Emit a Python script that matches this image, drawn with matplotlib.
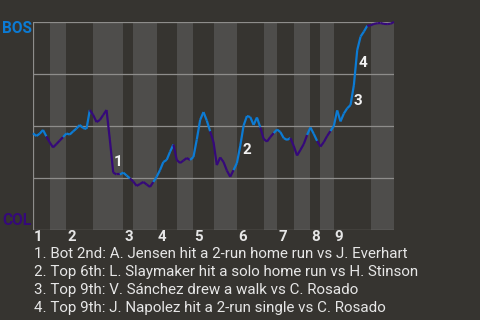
import matplotlib
matplotlib.use('Agg')
import matplotlib.pyplot as plt
from matplotlib.collections import LineCollection
import numpy as np

plt.rcParams['font.family'] = ['Roboto', 'DejaVu Sans']

# Win probability for BOS after each play
wp = [0.465, 0.452, 0.463, 0.481, 0.450, 0.421, 0.397, 0.413, 0.430, 0.447,
      0.464, 0.459, 0.474, 0.488, 0.505, 0.490, 0.486, 0.577, 0.553, 0.519,
      0.529, 0.553, 0.577, 0.433, 0.276, 0.267, 0.267, 0.276, 0.262, 0.248,
      0.233, 0.212, 0.221, 0.231, 0.219, 0.207, 0.231, 0.256, 0.288, 0.327,
      0.337, 0.376, 0.411, 0.337, 0.322, 0.334, 0.346, 0.337, 0.351, 0.435,
      0.529, 0.567, 0.526, 0.474, 0.423, 0.312, 0.349, 0.327, 0.286, 0.256,
      0.288, 0.322, 0.404, 0.502, 0.548, 0.543, 0.505, 0.541, 0.493, 0.438,
      0.425, 0.447, 0.466, 0.483, 0.471, 0.442, 0.433, 0.442, 0.404, 0.358,
      0.385, 0.413, 0.457, 0.493, 0.462, 0.428, 0.401, 0.423, 0.452, 0.476,
      0.500, 0.575, 0.522, 0.560, 0.585, 0.601, 0.697, 0.865, 0.930, 0.954,
      0.982, 0.984, 0.991, 0.994, 0.995, 0.991, 0.990, 0.992, 1.000]

# play index where each half inning starts (top 1, bot 1, top 2, ...)
half_starts = [0, 5, 10, 18, 27, 30, 37, 43, 48, 54, 61, 69, 73, 78, 83, 86, 90, 101]
innings = ['1', '2', '3', '4', '5', '6', '7', '8', '9']

team_top = 'BOS'
team_bottom = 'COL'

events = [24, 62, 96, 97]
event_labels = ['1', '2', '3', '4']
event_texts = [
    '1. Bot 2nd: A. Jensen hit a 2-run home run vs J. Everhart',
    '2. Top 6th: L. Slaymaker hit a solo home run vs H. Stinson',
    '3. Top 9th: V. Sánchez drew a walk vs C. Rosado',
    '4. Top 9th: J. Napolez hit a 2-run single vs C. Rosado',
]
label_offsets = [(3.5, 7.6), (4.5, -3.2), (3.0, -11.5), (3.8, -9.0)]

BG = '#363430'
BAND = '#4e4d4b'
GRID = '#8e8d8b'
BLUE = '#0c7bd4'
PURPLE = '#35097a'
TXT = '#e6e6e6'

n_plays = len(wp) - 1
fig = plt.figure(figsize=(4.8, 3.2), dpi=100, facecolor=BG)
ax = fig.add_axes([33/480, 1 - 230/320, (394-33)/480, (230-22)/320])
ax.set_facecolor(BG)
ax.set_xlim(0, n_plays)
ax.set_ylim(0, 1)
for s in ax.spines.values():
    s.set_visible(False)
ax.set_xticks([])
ax.set_yticks([])

ends = half_starts[1:] + [n_plays]
for k, (a, b) in enumerate(zip(half_starts, ends)):
    if k % 2 == 1:
        ax.axvspan(a, b, color=BAND, lw=0, zorder=0)

for g in [0, 0.25, 0.5, 0.75, 1.0]:
    ax.axhline(g, color=GRID, lw=0.9, zorder=1)
ax.axvline(0, color=GRID, lw=0.9, zorder=1)

x = np.arange(len(wp))
y = np.array(wp)
segs = [[(x[i], y[i]), (x[i+1], y[i+1])] for i in range(len(wp) - 1)]
cols = []
for i in range(len(wp) - 1):
    end = i + 1
    k = max(j for j, s in enumerate(half_starts) if s <= end)
    cols.append(BLUE if k % 2 == 0 else PURPLE)
lc = LineCollection(segs, colors=cols, linewidths=1.6, capstyle='butt', joinstyle='miter', zorder=3)
lc.set_clip_on(False)
ax.add_collection(lc)

for lab, idx, off in zip(event_labels, events, label_offsets):
    ax.annotate(lab, xy=(idx, wp[idx]), xytext=off, textcoords='offset points',
                ha='center', va='center', color='#f2f2f2', fontsize=11,
                fontweight='bold', zorder=4)

# inning labels
for k, inn in enumerate(innings):
    ax.text(half_starts[2*k] + 0.3, -0.055, inn, ha='left', va='baseline',
            color=TXT, fontsize=10.8, fontweight='bold',
            transform=ax.transData, clip_on=False)

fig.text(16.5/480, 1 - 33/320, team_top, ha='center', va='baseline',
         color=BLUE, fontsize=11.2, fontweight='bold')
fig.text(16.5/480, 1 - 225/320, team_bottom, ha='center', va='baseline',
         color=PURPLE, fontsize=11.2, fontweight='bold')

baselines = [258.3, 276.2, 294.0, 311.8]
for t, b in zip(event_texts, baselines):
    fig.text(34/480, 1 - b/320, t, ha='left', va='baseline', color=TXT, fontsize=10.9)

fig.savefig('out.png', dpi=100, facecolor=BG)
